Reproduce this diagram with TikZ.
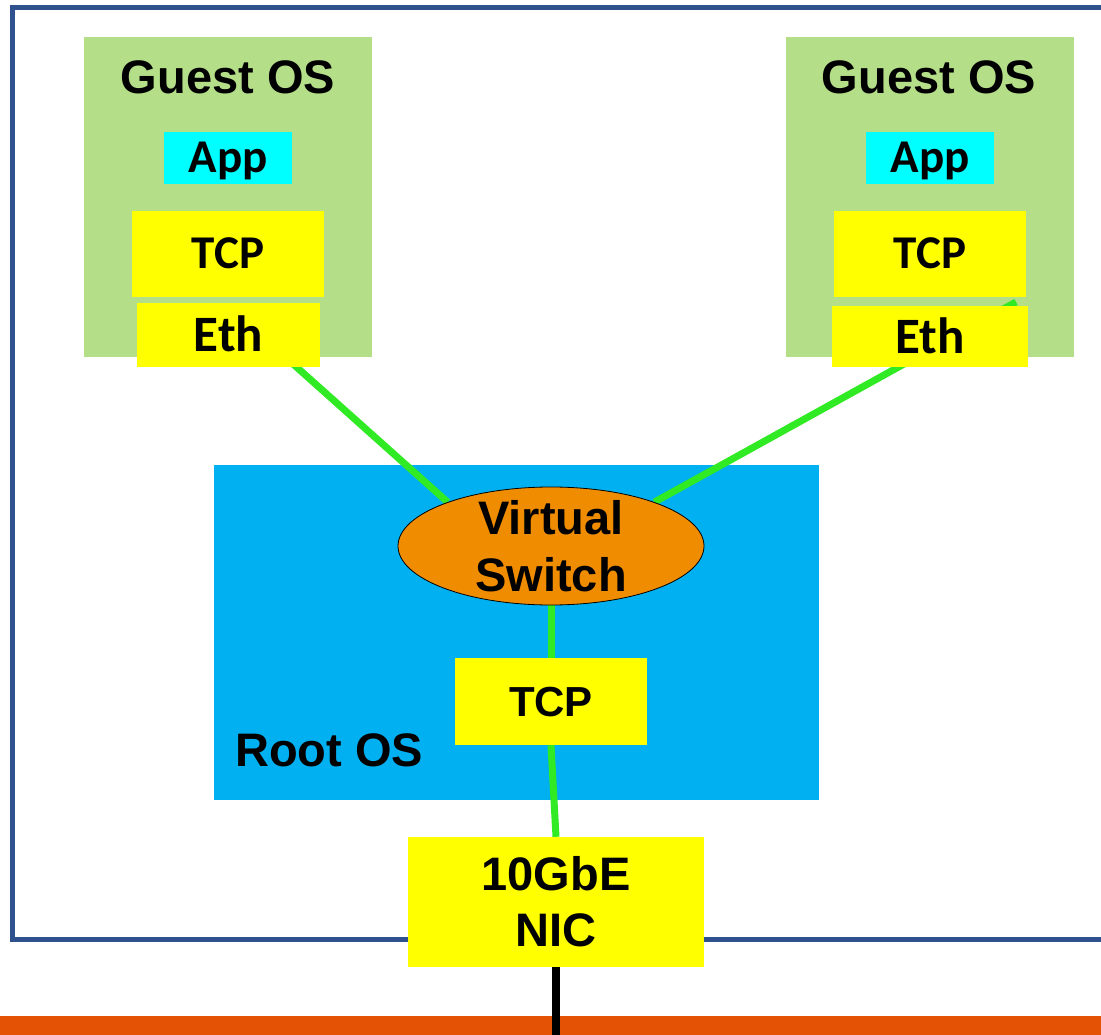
\documentclass[tikz,border=0pt]{standalone}
\usepackage{fontspec}
\setmainfont{Liberation Sans}
\newfontfamily\calibri{Carlito}
\usetikzlibrary{shapes.geometric}
\pgfdeclarelayer{bg}
\pgfdeclarelayer{lines}
\pgfsetlayers{bg,lines,main}
\definecolor{framecol}{RGB}{47,82,143}
\definecolor{guestgreen}{RGB}{181,222,137}
\definecolor{rootblue}{RGB}{0,176,240}
\definecolor{wirecol}{RGB}{48,234,36}
\definecolor{switchorange}{RGB}{240,140,0}
\definecolor{barorange}{RGB}{227,82,5}
\definecolor{boxyellow}{RGB}{255,255,0}
\definecolor{appcyan}{RGB}{0,255,255}
\begin{document}
\begin{tikzpicture}[x=1pt,y=-1pt,
  area/.style={rectangle,inner sep=0pt,draw=none},
  yellowbox/.style={rectangle,inner sep=0pt,fill=boxyellow,draw=none},
  appbox/.style={rectangle,inner sep=0pt,fill=appcyan,draw=none},
  cal/.style={font=\calibri\bfseries\fontsize{47}{56}\selectfont,text height=30pt,text depth=0pt},
  wire/.style={wirecol,line width=7pt},
  lbl/.style={inner sep=0pt,font=\bfseries\fontsize{47}{56}\selectfont,text height=33.6pt,text depth=0pt}]
\useasboundingbox (0,0) rectangle (1101,1035);
\begin{pgfonlayer}{bg}
\fill[white] (0,0) rectangle (1101,1035);
\node[area,fill=guestgreen,minimum width=288pt,minimum height=320pt] (gL) at (228,197) {};
\node[area,fill=guestgreen,minimum width=288pt,minimum height=320pt] (gR) at (930,197) {};
\node[area,fill=rootblue,minimum width=605pt,minimum height=335pt] (root) at (516.5,632.5) {};
\end{pgfonlayer}
% outer frame
\draw[framecol,line width=5pt] (12,8) rectangle (1120,939);
% bottom bar
\node[area,fill=barorange,minimum width=1101pt,minimum height=19pt] (bar) at (550.5,1025.5) {};
\node[lbl] (gLt) at (228,77) {Guest OS};
\node[lbl] (gRt) at (929,77) {Guest OS};
\node[lbl,anchor=west] (roott) at (235,750) {Root OS};
% left guest
\node[appbox,cal,minimum width=128pt,minimum height=52pt] (appL) at (228,158) {App};
\node[yellowbox,cal,minimum width=192pt,minimum height=86pt] (tcpL) at (228,254) {TCP};
\node[yellowbox,cal,font=\calibri\bfseries\fontsize{51}{56}\selectfont,text height=33pt,minimum width=183pt,minimum height=64pt] (ethL) at (228.5,335) {Eth};
% right guest
\node[appbox,cal,minimum width=128pt,minimum height=52pt] (appR) at (930,158) {App};
\node[yellowbox,cal,minimum width=192pt,minimum height=86pt] (tcpR) at (930,254) {TCP};
\node[yellowbox,cal,font=\calibri\bfseries\fontsize{51}{56}\selectfont,text height=33pt,minimum width=196pt,minimum height=61pt] (ethR) at (930,336.5) {Eth};
% root
\node[ellipse,inner sep=0pt,fill=switchorange,draw=black,line width=0.8pt,minimum width=306pt,minimum height=118pt,
  label={[align=center,inner sep=0pt,font=\bfseries\fontsize{47}{57}\selectfont]center:Virtual\\Switch}] (vs) at (551,546) {};
\node[yellowbox,font=\bfseries\fontsize{42}{50}\selectfont,text height=30pt,text depth=0pt,minimum width=192pt,minimum height=87pt] (rtcp) at (551,701.5) {TCP};
\node[yellowbox,align=center,font=\bfseries\fontsize{47}{56}\selectfont,minimum width=296pt,minimum height=130pt] (nic) at (556,902) {10GbE\\NIC};
% wires
\coordinate (ethLend) at (283,355);
\coordinate (ethRend) at (1016,302);
\begin{pgfonlayer}{lines}
\draw[wire] (vs.157) -- (ethLend);
\draw[wire] (vs.23) -- (ethRend);
\draw[wire] (vs.south) -- (rtcp.north);
\draw[wire] (rtcp.south) -- (nic.north);
\end{pgfonlayer}
\draw[black,line width=8pt] (nic.south) -- (nic.south |- bar.south);
\end{tikzpicture}
\end{document}
